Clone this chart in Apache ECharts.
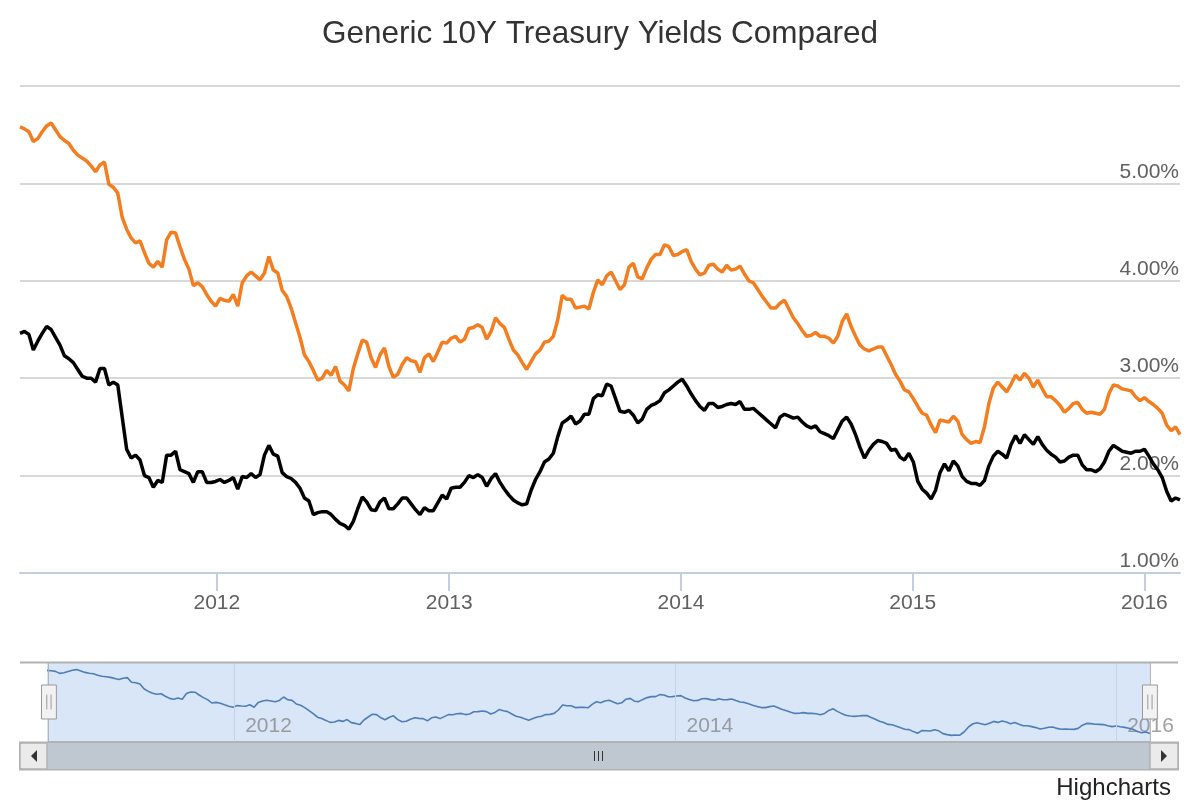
<!DOCTYPE html>
<html>
<head>
<meta charset="utf-8">
<script src="https://cdn.jsdelivr.net/npm/echarts@6/dist/echarts.min.js"></script>
<style>
html,body{margin:0;padding:0;background:#fff;}
#chart{width:1200px;height:800px;}
</style>
</head>
<body>
<div id="chart"></div>
<script>
// Weekly observations, first week ending 2011-02-25
const startYear = 2011, startMonth = 1, startDay = 25; // month is 0-based
const stepDays = 7;

const orangeYields = [
5.58,5.56,5.53,5.43,5.46,5.53,5.59,5.62,5.55,5.48,
5.44,5.41,5.34,5.29,5.26,5.23,5.18,5.12,5.19,5.22,
4.99,4.96,4.90,4.65,4.53,4.44,4.39,4.41,4.29,4.18,
4.14,4.20,4.14,4.42,4.50,4.49,4.35,4.22,4.12,3.95,
3.98,3.94,3.86,3.79,3.74,3.82,3.80,3.79,3.86,3.74,
3.98,4.05,4.09,4.05,4.01,4.08,4.25,4.11,4.08,3.90,
3.84,3.72,3.57,3.42,3.24,3.17,3.08,2.98,3.00,3.08,
3.03,3.12,2.97,2.93,2.87,3.10,3.25,3.39,3.37,3.21,
3.11,3.24,3.31,3.12,3.01,3.04,3.14,3.21,3.18,3.17,
3.06,3.21,3.25,3.17,3.27,3.37,3.36,3.41,3.43,3.37,
3.40,3.51,3.52,3.55,3.52,3.40,3.48,3.62,3.56,3.52,
3.40,3.29,3.24,3.16,3.09,3.17,3.25,3.29,3.37,3.38,
3.43,3.60,3.85,3.81,3.81,3.72,3.73,3.74,3.71,3.88,
4.01,3.96,4.05,4.09,4.00,3.91,3.96,4.14,4.18,4.04,
4.02,4.13,4.22,4.27,4.27,4.37,4.35,4.26,4.27,4.30,
4.32,4.20,4.12,4.06,4.08,4.16,4.17,4.12,4.09,4.16,
4.11,4.12,4.15,4.07,4.00,3.98,3.91,3.84,3.78,3.72,
3.72,3.77,3.80,3.71,3.62,3.56,3.49,3.43,3.44,3.47,
3.43,3.43,3.41,3.36,3.43,3.58,3.66,3.53,3.43,3.34,
3.30,3.28,3.30,3.32,3.32,3.23,3.14,3.04,2.97,2.88,
2.86,2.79,2.71,2.64,2.62,2.52,2.44,2.57,2.56,2.55,
2.61,2.56,2.42,2.37,2.33,2.35,2.34,2.50,2.74,2.90,
2.96,2.91,2.86,2.94,3.03,2.98,3.05,3.00,2.91,2.98,
2.89,2.81,2.81,2.77,2.72,2.65,2.69,2.74,2.75,2.68,
2.64,2.65,2.64,2.63,2.68,2.84,2.93,2.92,2.89,2.88,
2.87,2.81,2.77,2.80,2.76,2.73,2.69,2.64,2.52,2.46,
2.50,2.42
];

const blackYields = [
3.46,3.48,3.45,3.29,3.38,3.46,3.53,3.50,3.42,3.34,
3.23,3.20,3.16,3.09,3.02,3.00,3.00,2.96,3.10,3.10,
2.93,2.96,2.93,2.60,2.27,2.18,2.21,2.16,2.00,1.98,
1.88,1.95,1.93,2.21,2.21,2.25,2.06,2.04,2.02,1.93,
2.04,2.04,1.93,1.93,1.94,1.96,1.93,1.95,1.98,1.86,
1.99,1.98,2.02,1.98,2.01,2.21,2.31,2.22,2.20,2.03,
1.99,1.97,1.93,1.87,1.77,1.74,1.60,1.62,1.63,1.63,
1.60,1.55,1.51,1.49,1.45,1.53,1.66,1.78,1.73,1.65,
1.64,1.73,1.77,1.66,1.66,1.71,1.77,1.77,1.71,1.65,
1.60,1.67,1.64,1.64,1.72,1.80,1.76,1.87,1.88,1.88,
1.93,2.00,1.98,2.01,1.98,1.89,1.97,2.02,1.93,1.86,
1.80,1.75,1.72,1.70,1.71,1.85,1.96,2.04,2.14,2.17,
2.23,2.40,2.54,2.57,2.61,2.53,2.56,2.63,2.63,2.79,
2.83,2.82,2.94,2.92,2.79,2.66,2.65,2.67,2.62,2.54,
2.58,2.68,2.72,2.74,2.77,2.85,2.88,2.92,2.96,2.99,
2.92,2.84,2.77,2.71,2.67,2.74,2.74,2.70,2.71,2.73,
2.74,2.73,2.76,2.68,2.68,2.69,2.65,2.61,2.57,2.53,
2.49,2.60,2.63,2.61,2.59,2.60,2.55,2.51,2.49,2.51,
2.45,2.43,2.41,2.38,2.47,2.56,2.60,2.53,2.42,2.29,
2.18,2.26,2.32,2.36,2.35,2.33,2.26,2.27,2.19,2.16,
2.23,2.14,1.94,1.86,1.82,1.76,1.85,2.03,2.12,2.05,
2.15,2.10,1.99,1.94,1.92,1.92,1.90,1.95,2.10,2.20,
2.25,2.22,2.18,2.32,2.41,2.33,2.42,2.37,2.32,2.40,
2.32,2.26,2.22,2.19,2.14,2.15,2.19,2.21,2.21,2.11,
2.06,2.06,2.04,2.07,2.14,2.25,2.31,2.28,2.25,2.24,
2.23,2.25,2.25,2.27,2.20,2.12,2.06,1.98,1.84,1.74,
1.77,1.75
];

const yTickMin = 1, yTickMax = 6, yTickStep = 1;
const navYears = [2012, 2014, 2016]; // years labelled in the navigator
const titleText = 'Generic 10Y Treasury Yields Compared';
const creditText = 'Highcharts';

const dates = orangeYields.map((_, i) => new Date(startYear, startMonth, startDay + i * stepDays).getTime());
const orangeData = dates.map((d, i) => [d, orangeYields[i]]);
const blackData = dates.map((d, i) => [d, blackYields[i]]);
const xMin = dates[0], xMax = dates[dates.length - 1];
const DAY = 86400000;
const FONT = '"Liberation Sans", Arial, Helvetica, sans-serif';

const chart = echarts.init(document.getElementById('chart'), null, {renderer: 'canvas'});
const option = {
  backgroundColor: '#ffffff',
  animation: false,
  textStyle: {fontFamily: FONT},
  title: {
    text: titleText, left: 'center', top: 18, padding: 0,
    textStyle: {fontFamily: FONT, fontSize: 31.5, fontWeight: 'normal', color: '#333333'}
  },
  grid: [
    {left: 20, right: 20, top: 86, height: 487, containLabel: false},
    {left: 47, right: 50, top: 662, height: 80, show: true, backgroundColor: '#D8E6F7', borderWidth: 0}
  ],
  xAxis: [
    {
      type: 'time', gridIndex: 0, min: xMin, max: xMax,
      minInterval: 365 * DAY, maxInterval: 366 * DAY,
      axisLine: {show: true, lineStyle: {color: '#C0D0E0', width: 2}},
      axisTick: {show: true, length: 18, lineStyle: {color: '#C0D0E0', width: 2}},
      splitLine: {show: false},
      axisLabel: {formatter: '{yyyy}', fontSize: 21, color: '#606060', margin: 20, fontFamily: FONT,
        showMinLabel: false, showMaxLabel: false}
    },
    {
      type: 'time', gridIndex: 1, min: xMin, max: xMax,
      minInterval: 365 * DAY, maxInterval: 366 * DAY,
      axisLine: {show: false}, axisTick: {show: false},
      splitLine: {show: false},
      axisLabel: {show: false}
    }
  ],
  yAxis: [
    {
      type: 'value', gridIndex: 0, position: 'right', min: yTickMin, max: yTickMax, interval: yTickStep,
      axisLine: {show: false}, axisTick: {show: false},
      splitLine: {show: true, lineStyle: {color: '#D8D8D8', width: 2}},
      axisLabel: {inside: true, align: 'right', verticalAlign: 'bottom', margin: 1, padding: [0, 0, 1, 0],
        fontSize: 21, color: '#606060', fontFamily: FONT, showMaxLabel: false,
        formatter: v => v.toFixed(2) + '%'}
    },
    {
      type: 'value', gridIndex: 1, min: 2, max: 6, show: false,
      splitLine: {show: false}
    }
  ],
  dataZoom: [{
    type: 'slider', xAxisIndex: 0, start: 0, end: 100,
    left: 47, right: 50, top: 662, height: 80,
    backgroundColor: 'rgba(0,0,0,0)', fillerColor: 'rgba(0,0,0,0)',
    borderColor: '#B2B2B2', borderRadius: 0,
    showDataShadow: false, showDetail: false, brushSelect: false, moveHandleSize: 0,
    handleIcon: 'path://M0,0 L14,0 L14,32 L0,32 Z M5,9 L5,23 M9,9 L9,23',
    handleSize: 34,
    handleStyle: {color: '#F2F2F2', borderColor: '#999999', borderWidth: 1},
    emphasis: {handleStyle: {color: '#F2F2F2', borderColor: '#999999'}},
    zoomLock: false
  }],
  series: [
    {
      name: 'Orange yields', type: 'line', xAxisIndex: 0, yAxisIndex: 0, data: orangeData,
      showSymbol: false, symbol: 'none', lineStyle: {color: '#F47D20', width: 3.5}, itemStyle: {color: '#F47D20'},
      z: 3
    },
    {
      name: 'Black yields', type: 'line', xAxisIndex: 0, yAxisIndex: 0, data: blackData,
      showSymbol: false, symbol: 'none', lineStyle: {color: '#000000', width: 3.5}, itemStyle: {color: '#000000'},
      z: 4
    },
    {
      name: 'Navigator', type: 'line', xAxisIndex: 1, yAxisIndex: 1, data: orangeData,
      showSymbol: false, symbol: 'none', lineStyle: {color: '#4F7DB8', width: 1.6}, itemStyle: {color: '#4F7DB8'},
      silent: true, z: 3,
      markLine: {
        silent: true, symbol: 'none', animation: false,
        lineStyle: {color: '#C4D4E8', width: 1, type: 'solid'},
        label: {show: false},
        data: navYears.map(y => ({xAxis: new Date(y, 0, 1).getTime()}))
      }
    },
    {
      name: 'Navigator labels', type: 'scatter', xAxisIndex: 1, yAxisIndex: 1,
      data: navYears.map(y => [new Date(y, 0, 1).getTime(), 2]),
      symbolSize: 0, silent: true, z: 2,
      label: {
        show: true, position: 'insideBottomLeft', formatter: p => String(new Date(p.value[0]).getFullYear()),
        align: 'left', verticalAlign: 'bottom', offset: [6, 0],
        fontSize: 21, color: '#888888', fontFamily: FONT
      }
    }
  ],
  graphic: [
    // navigator top outline across the full width
    {type: 'line', shape: {x1: 20, y1: 662.5, x2: 1178, y2: 662.5}, style: {stroke: '#B2B2B2', lineWidth: 2}, z: 10},
    // scrollbar track / thumb
    {type: 'rect', shape: {x: 20, y: 742.5, width: 1158, height: 27}, style: {fill: '#EEEEEE', stroke: '#B2B2B2', lineWidth: 2}, z: 10},
    {type: 'rect', shape: {x: 47, y: 743, width: 1103, height: 26}, style: {fill: '#BFC8D1', stroke: '#BFC8D1', lineWidth: 0}, z: 11},
    // left button
    {type: 'rect', shape: {x: 20, y: 743, width: 27, height: 26}, style: {fill: '#EBEBEB', stroke: '#B2B2B2', lineWidth: 1.5}, z: 11},
    {type: 'polygon', shape: {points: [[37, 750], [37, 762], [31, 756]]}, style: {fill: '#333333'}, z: 12},
    // right button
    {type: 'rect', shape: {x: 1150, y: 743, width: 28, height: 26}, style: {fill: '#EBEBEB', stroke: '#B2B2B2', lineWidth: 1.5}, z: 11},
    {type: 'polygon', shape: {points: [[1161, 750], [1161, 762], [1167, 756]]}, style: {fill: '#333333'}, z: 12},
    // scrollbar grip
    {type: 'line', shape: {x1: 594.5, y1: 751, x2: 594.5, y2: 761}, style: {stroke: '#333333', lineWidth: 1}, z: 12},
    {type: 'line', shape: {x1: 598.5, y1: 751, x2: 598.5, y2: 761}, style: {stroke: '#333333', lineWidth: 1}, z: 12},
    {type: 'line', shape: {x1: 602.5, y1: 751, x2: 602.5, y2: 761}, style: {stroke: '#333333', lineWidth: 1}, z: 12},
    // credits
    {type: 'text', right: 29, top: 776, style: {text: creditText, fontSize: 24, fontFamily: FONT, fill: '#222222'}, z: 12}
  ]
};
chart.setOption(option);
</script>
</body>
</html>
